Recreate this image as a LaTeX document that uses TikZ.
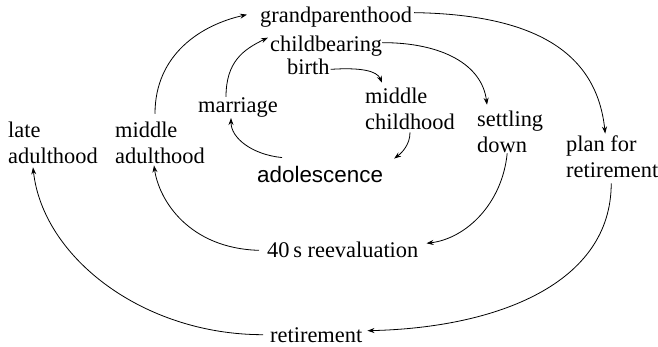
\documentclass[tikz,border=0pt]{standalone}
\usepackage{fontspec}
\setmainfont{Liberation Serif}
\setsansfont{Liberation Sans}
\usetikzlibrary{arrows.meta}
\begin{document}
\begin{tikzpicture}[x=1pt,y=-1pt,
  lbl/.style={inner sep=0pt, align=left, anchor=base west,
    font=\fontsize{22.4}{26.5}\selectfont},
  link/.style={line width=0.8pt, -{Stealth[length=7pt,width=5pt]}}]
\useasboundingbox (0,0) rectangle (658,347);

% life stages (two-line labels are placed by their last baseline)
\node[lbl] (gp) at (260,23) {grandparenthood};
\node[lbl] (cb) at (270,52) {childbearing};
\node[lbl] (bi) at (287,75) {birth};
\node[lbl] (mr) at (198,113) {marriage};
\node[lbl] (mc) at (365,130) {middle\\childhood};
\node[lbl, font=\sffamily\fontsize{22.4}{26.5}\selectfont] (ad) at (257,183) {adolescence};
\node[lbl] (sd) at (477,153) {settling\\down};
\node[lbl] (pr) at (566,178) {plan for\\retirement};
\node[lbl] (la) at (8,164) {late\\adulthood};
\node[lbl] (ma) at (115,164) {middle\\adulthood};
\node[lbl] (re) at (267,258) {40\,s reevaluation};
\node[lbl] (rt) at (270,342) {retirement};

% transitions
\draw[link] ([shift={(-5,-8)}]ma.north) .. controls +(0,-60) and +(-45,10) .. ([shift={(-13,-3)}]gp.west);
\draw[link] ([shift={(2,-5)}]gp.east) .. controls +(130,2) and +(-8,-75) .. ([shift={(-7,-2)}]pr.north);
\draw[link] ([shift={(-12,-1)}]mr.north) .. controls +(0,-35) and +(-25,12) .. ([shift={(-2,-9)}]cb.west);
\draw[link] ([shift={(0,-4)}]cb.east) .. controls +(60,0) and +(-5,-40) .. ([shift={(10,-6)}]sd.north west);
\draw[link] ([shift={(1,2)}]bi.east) .. controls +(30,-2) and +(-5,-12) .. ([shift={(17,-5)}]mc.north west);
\draw[link] ([shift={(25,-9)}]ad.north west) .. controls +(-30,-3) and +(0,20) .. ([shift={(-7,0)}]mr.south);
\draw[link] ([shift={(0,2)}]mc.south) .. controls +(0,12) and +(8,-6) .. ([shift={(11,-8)}]ad.north east);
\draw[link] ([shift={(-3,0)}]sd.south) .. controls +(-5,50) and +(40,-5) .. ([shift={(8,-7)}]re.east);
\draw[link] ([shift={(-8,0)}]re.west) .. controls +(-70,-2) and +(5,35) .. ([shift={(-6,1)}]ma.south);
\draw[link] ([shift={(-1,5)}]pr.south) .. controls +(0,100) and +(130,-3) .. ([shift={(5,-4)}]rt.east);
\draw[link] ([shift={(-7,0)}]rt.west) .. controls +(-120,0) and +(10,90) .. ([shift={(-20,3)}]la.south);
\end{tikzpicture}
\end{document}
